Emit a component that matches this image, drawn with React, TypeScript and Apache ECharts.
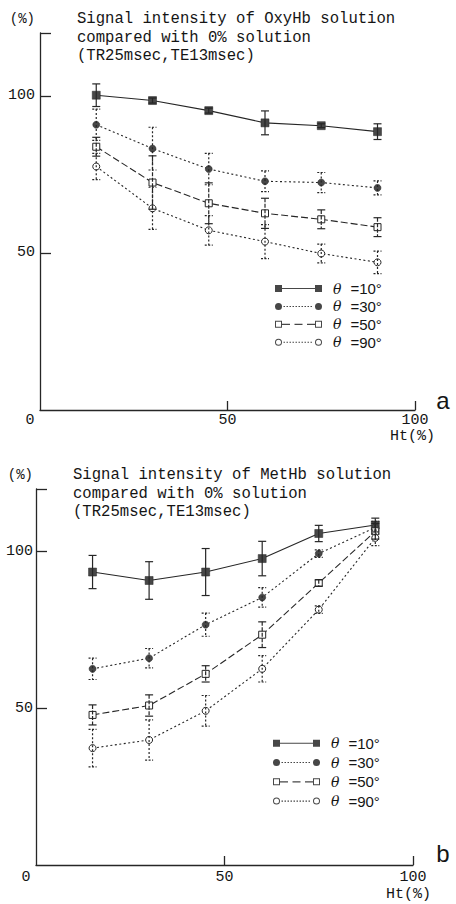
import React, { useEffect, useRef } from 'react';
import * as echarts from 'echarts';

// ---------- data ----------
const HT = [15, 30, 45, 60, 75, 90];
const NAMES = ['θ =10°', 'θ =30°', 'θ =50°', 'θ =90°'];
const X_TICKS = [50, 100];
const X_LABELS = [0, 50, 100];
const Y_TICKS = [50, 100, 120];
const Y_LABELS = [50, 100];

const TITLE_A = 'Signal intensity of OxyHb solution\ncompared with 0% solution\n(TR25msec,TE13msec)';
const TITLE_B = 'Signal intensity of MetHb solution\ncompared with 0% solution\n(TR25msec,TE13msec)';

// (a) OxyHb
const OXY_10 = [100.2, 98.5, 95.3, 91.4, 90.5, 88.6];
const OXY_10_ERR = [3.6, 0.8, 0.8, 3.8, 0.6, 2.5];
const OXY_30 = [90.8, 83.2, 76.7, 72.8, 72.4, 70.7];
const OXY_30_ERR = [5.0, 6.8, 5.0, 3.3, 3.2, 2.2];
const OXY_50 = [83.8, 72.4, 65.8, 62.6, 60.7, 58.2];
const OXY_50_ERR = [3.0, 8.5, 6.5, 4.8, 3.0, 3.0];
const OXY_90 = [77.5, 64.2, 57.2, 53.6, 49.8, 47.0];
const OXY_90_ERR = [4.2, 6.7, 4.7, 5.4, 3.0, 3.6];

// (b) MetHb
const MET_10 = [93.5, 90.8, 93.5, 97.8, 105.8, 108.5];
const MET_10_ERR = [5.3, 6.0, 7.5, 5.5, 2.6, 2.2];
const MET_30 = [62.6, 66.0, 76.7, 85.4, 99.4, 107.7];
const MET_30_ERR = [3.4, 3.1, 3.7, 3.1, 1.2, 2.0];
const MET_50 = [47.9, 50.9, 61.0, 73.5, 90.0, 106.5];
const MET_50_ERR = [3.2, 3.4, 2.6, 4.1, 1.0, 2.5];
const MET_90 = [37.3, 39.9, 49.2, 62.6, 81.5, 104.4];
const MET_90_ERR = [6.0, 6.4, 4.9, 4.2, 1.2, 2.5];

const PANEL_A = [
  [OXY_10, OXY_10_ERR],
  [OXY_30, OXY_30_ERR],
  [OXY_50, OXY_50_ERR],
  [OXY_90, OXY_90_ERR],
];
const PANEL_B = [
  [MET_10, MET_10_ERR],
  [MET_30, MET_30_ERR],
  [MET_50, MET_50_ERR],
  [MET_90, MET_90_ERR],
];

// ---------- styling ----------
const INK = '#262626';
const FILL = '#474747';
const TXT = '#151515';
const MONO = 'Liberation Mono';

const circ = (cx: number, r: number, rev: boolean) => {
  const s = rev ? 0 : 1;
  return `M${cx - r},4A${r},${r} 0 1,${s} ${cx + r},4A${r},${r} 0 1,${s} ${cx - r},4Z`;
};
const sq = (x0: number) => `M${x0},0.5H${x0 + 7}V7.5H${x0}Z`;
const sqHole = (x0: number) => `M${x0 + 1},1.5V6.5H${x0 + 6}V1.5Z`;
const dots = (a: number, b: number) => {
  let s = '';
  for (let x = a; x + 1.5 <= b; x += 3) s += `M${x},3.5H${x + 1.5}V4.6H${x}Z`;
  return s;
};
const ICONS = [
  'path://' + sq(0) + sq(40) + 'M7,3.5H40V4.6H7Z',
  'path://' + circ(3.5, 3.5, false) + circ(43.5, 3.5, false) + dots(8.5, 39),
  'path://' + sq(0) + sqHole(0) + sq(40) + sqHole(40) + 'M7,3.5H15V4.6H7Z M19.5,3.5H27.5V4.6H19.5Z M32,3.5H40V4.6H32Z',
  'path://' + circ(3.5, 3.5, false) + circ(3.5, 2.5, true) + circ(43.5, 3.5, false) + circ(43.5, 2.5, true) + dots(8.5, 39),
];

const STYLES: any[] = [
  { symbol: 'rect', size: 8, fill: FILL, line: 'solid', bar: 'solid', cap: 'solid' },
  { symbol: 'circle', size: 7, fill: FILL, line: [2, 2.5], bar: [2, 2], cap: [2, 1.5] },
  { symbol: 'rect', size: 7, fill: '#ffffff', line: [7, 3], bar: [4, 1.5], cap: 'solid' },
  { symbol: 'circle', size: 7, fill: '#ffffff', line: [2, 2.5], bar: [2, 2], cap: [2, 1.5] },
];

const errRender = (st: any) => (params: any, api: any) => {
  const x = api.value(0);
  const y = api.value(1);
  const e = api.value(2);
  const p1 = api.coord([x, y + e]);
  const p2 = api.coord([x, y - e]);
  const hw = 4;
  const mk = (x1: number, y1: number, x2: number, y2: number, d: any) => {
    const style: any = { stroke: INK, lineWidth: 1.2 };
    if (d !== 'solid') style.lineDash = d;
    return { type: 'line', shape: { x1, y1, x2, y2 }, style };
  };
  return {
    type: 'group',
    children: [
      mk(p1[0], p1[1], p2[0], p2[1], st.bar),
      mk(p1[0] - hw, p1[1], p1[0] + hw, p1[1], st.cap),
      mk(p2[0] - hw, p2[1], p2[0] + hw, p2[1], st.cap),
    ],
  };
};

const buildSeries = (panel: any[], gi: number) => {
  const out: any[] = [];
  panel.forEach(([vals, errs]: any, i: number) => {
    const st = STYLES[i];
    out.push({
      type: 'line',
      name: NAMES[i],
      xAxisIndex: gi,
      yAxisIndex: gi,
      data: HT.map((x, k) => [x, vals[k]]),
      symbol: st.symbol,
      symbolSize: st.size,
      showSymbol: true,
      lineStyle: { color: INK, width: 1.1, type: st.line },
      itemStyle: { color: st.fill, borderColor: INK, borderWidth: st.fill === FILL ? 0.5 : 1 },
      z: 2,
    });
    out.push({
      type: 'custom',
      name: NAMES[i] + ' err',
      xAxisIndex: gi,
      yAxisIndex: gi,
      data: HT.map((x, k) => [x, vals[k], errs[k]]),
      encode: { x: 0, y: 1 },
      renderItem: errRender(st),
      silent: true,
      z: 3,
    });
  });
  return out;
};

const xAxisCfg = (gi: number, lblMargin: number, nameGap: number, padTop: number) => ({
  gridIndex: gi,
  type: 'value',
  min: 0,
  max: 100,
  axisLine: { show: true, lineStyle: { color: INK, width: 1.3 } },
  axisTick: { show: true, inside: true, length: 9, customValues: X_TICKS, lineStyle: { color: INK, width: 1.3 } },
  axisLabel: {
    customValues: X_LABELS,
    margin: lblMargin,
    fontFamily: MONO,
    fontSize: 15,
    lineHeight: 15,
    color: TXT,
    formatter: (v: number) => (v === 0 ? '{z|0}' : String(v)),
    rich: { z: { fontFamily: MONO, fontSize: 15, lineHeight: 15, color: TXT, padding: [0, 20, 0, 0] } },
  },
  splitLine: { show: false },
  name: 'Ht(%)',
  nameLocation: 'end',
  nameGap,
  nameMoveOverlap: false,
  nameTextStyle: { fontFamily: MONO, fontSize: 15, lineHeight: 15, color: TXT, align: 'right', verticalAlign: 'top', padding: [padTop, 0, 0, 0] },
});

const yAxisCfg = (gi: number, lblMargin: number, namePad: number) => ({
  gridIndex: gi,
  type: 'value',
  min: 0,
  max: 120,
  axisLine: { show: true, lineStyle: { color: INK, width: 1.3 } },
  axisTick: { show: true, inside: true, length: 11, customValues: Y_TICKS, lineStyle: { color: INK, width: 1.3 } },
  axisLabel: { customValues: Y_LABELS, margin: lblMargin, fontFamily: MONO, fontSize: 15, color: TXT },
  splitLine: { show: false },
  name: '(%)',
  nameLocation: 'end',
  nameGap: 7,
  nameMoveOverlap: false,
  nameTextStyle: { fontFamily: MONO, fontSize: 14, color: TXT, align: 'right', padding: [0, namePad, 0, 0] },
});

const legendCfg = (left: number, top: number, gap: number) => ({
  orient: 'vertical',
  left,
  top,
  padding: 0,
  itemWidth: 47,
  itemHeight: 8,
  itemGap: gap,
  selectedMode: false,
  data: NAMES.map((n, i) => ({ name: n, icon: ICONS[i] })),
  itemStyle: { color: FILL, borderWidth: 0 },
  formatter: (name: string) => `{t|θ}{v|${name.replace('θ ', '')}}`,
  textStyle: {
    color: TXT,
    rich: {
      t: { fontFamily: 'DejaVu Serif', fontStyle: 'italic', fontSize: 14, color: TXT, lineHeight: 16, padding: [0, 0, 0, 6] },
      v: { fontFamily: 'Liberation Sans', fontSize: 15, color: TXT, lineHeight: 16, padding: [0, 0, 0, 9] },
    },
  },
});

const titleCfg = (text: string, left: number, top: number) => ({
  text,
  left,
  top,
  padding: 0,
  textStyle: { fontFamily: MONO, fontSize: 15.6, fontWeight: 'normal', lineHeight: 18.5, color: TXT },
});

export default function App() {
  const ref = useRef<HTMLDivElement | null>(null);
  useEffect(() => {
    document.body.style.margin = '0';
    if (!ref.current) return;
    const chart = echarts.init(ref.current, null, { renderer: 'svg' });
    chart.setOption({
      animation: false,
      backgroundColor: '#ffffff',
      title: [titleCfg(TITLE_A, 77, 10), titleCfg(TITLE_B, 73, 466)],
      grid: [
        { left: 40, right: 41, top: 33, bottom: 494, containLabel: false, outerBoundsMode: 'none' },
        { left: 36, right: 43, top: 489, bottom: 39, containLabel: false, outerBoundsMode: 'none' },
      ],
      xAxis: [xAxisCfg(0, 3, 20, 18.5), xAxisCfg(1, 5, 18, 22)],
      yAxis: [yAxisCfg(0, 5, 5), yAxisCfg(1, 3, 3)],
      legend: [legendCfg(275, 281, 2.9), legendCfg(273, 735.7, 4.3)],
      graphic: [
        { type: 'text', x: 443, y: 400, style: { text: 'a', fontFamily: 'Liberation Sans', fontSize: 24, fill: TXT, align: 'center', verticalAlign: 'middle' } },
        { type: 'text', x: 443, y: 853, style: { text: 'b', fontFamily: 'Liberation Sans', fontSize: 24, fill: TXT, align: 'center', verticalAlign: 'middle' } },
      ],
      series: [...buildSeries(PANEL_A, 0), ...buildSeries(PANEL_B, 1)],
    });
    return () => chart.dispose();
  }, []);
  return <div ref={ref} style={{ width: 456, height: 904 }} />;
}
